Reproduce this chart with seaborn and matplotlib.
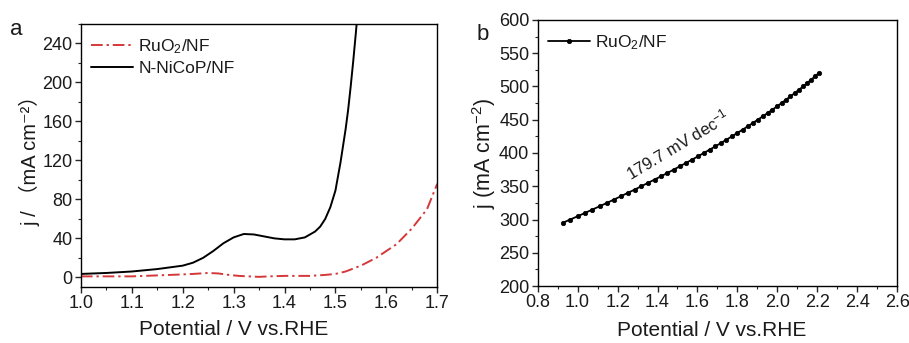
import matplotlib
matplotlib.use("Agg")
import matplotlib.pyplot as plt
from matplotlib.ticker import MultipleLocator
import pandas as pd
import seaborn as sns

# Panel a: polarization curves
nicop_v = [1.00, 1.05, 1.10, 1.15, 1.20, 1.22, 1.24, 1.26, 1.28, 1.30, 1.32, 1.34,
           1.36, 1.38, 1.40, 1.42, 1.44, 1.46, 1.47, 1.48, 1.49, 1.50, 1.51, 1.52,
           1.525, 1.53, 1.535, 1.54, 1.542]
nicop_j = [3.5, 4.5, 6, 8.5, 12, 15, 20, 27, 35, 41, 44.5, 44, 42, 40, 39, 39, 41,
           47, 52, 60, 72, 89, 118, 152, 172, 196, 222, 250, 262]

ruo2_v = [1.00, 1.05, 1.10, 1.15, 1.20, 1.22, 1.25, 1.27, 1.29, 1.31, 1.33, 1.35,
          1.37, 1.40, 1.45, 1.48, 1.50, 1.52, 1.55, 1.58, 1.60, 1.62, 1.65, 1.68, 1.70]
ruo2_j = [1, 1, 1, 2, 3, 3.5, 4.5, 4, 2.5, 1.5, 1, 0.5, 1, 1.5, 1.5, 2.5, 3.5, 6,
          12, 20, 27, 34, 50, 70, 96]

# Panel b: RuO2/NF sampled points
tafel_v = [0.925, 0.963, 1.001, 1.038, 1.074, 1.111, 1.147, 1.182, 1.217, 1.251,
           1.286, 1.319, 1.352, 1.385, 1.418, 1.450, 1.481, 1.512, 1.543, 1.573,
           1.603, 1.632, 1.661, 1.690, 1.718, 1.745, 1.773, 1.799, 1.826, 1.852,
           1.877, 1.902, 1.927, 1.951, 1.975, 1.998, 2.021, 2.043, 2.065, 2.087,
           2.108, 2.129, 2.149, 2.169, 2.188, 2.207]
tafel_j = [295, 300, 305, 310, 315, 320, 325, 330, 335, 340, 345, 350, 355, 360,
           365, 370, 375, 380, 385, 390, 395, 400, 405, 410, 415, 420, 425, 430,
           435, 440, 445, 450, 455, 460, 465, 470, 475, 480, 485, 490, 495, 500,
           505, 510, 515, 520]

sns.set_style("ticks")
FAMILY = ["Liberation Sans", "Noto Sans CJK SC", "DejaVu Sans"]
plt.rcParams["font.family"] = FAMILY
plt.rcParams["mathtext.fontset"] = "custom"
plt.rcParams["mathtext.rm"] = "Liberation Sans"
plt.rcParams["mathtext.it"] = "Liberation Sans"
plt.rcParams["mathtext.default"] = "regular"

TXT = "#1a1a1a"
RED = "#d6383a"

fig = plt.figure(figsize=(9.09, 3.43), dpi=100)
ax1 = fig.add_axes([0.089, 0.163, 0.392, 0.767])
ax2 = fig.add_axes([0.5915, 0.166, 0.3955, 0.776])

df_ru = pd.DataFrame({"V": ruo2_v, "j": ruo2_j})
df_ni = pd.DataFrame({"V": nicop_v, "j": nicop_j})
sns.lineplot(data=df_ru, x="V", y="j", ax=ax1, color=RED, lw=1.4,
             linestyle=(0, (6, 2, 1.2, 2)), sort=False, label="RuO$_2$/NF")
sns.lineplot(data=df_ni, x="V", y="j", ax=ax1, color="black", lw=1.4,
             sort=False, label="N-NiCoP/NF")
ax1.set_xlim(1.0, 1.7)
ax1.set_ylim(-10, 260)
ax1.xaxis.set_major_locator(MultipleLocator(0.1))
ax1.xaxis.set_minor_locator(MultipleLocator(0.05))
ax1.yaxis.set_major_locator(MultipleLocator(40))
ax1.yaxis.set_minor_locator(MultipleLocator(20))
ax1.set_xlabel("Potential / V vs.RHE", fontsize=15, color=TXT)
ax1.xaxis.set_label_coords(0.43, -0.125, transform=ax1.transAxes)
ax1.xaxis.label.set_va("top")
ax1.set_ylabel("j / （mA cm⁻²）", fontsize=14.5, color=TXT, labelpad=1,
               family=FAMILY)
leg1 = ax1.legend(loc="upper left", frameon=False, fontsize=12.5, handlelength=2.4,
                  handletextpad=0.3, borderaxespad=0.2, labelspacing=0.3,
                  bbox_to_anchor=(0.0, 0.99))
for t in leg1.get_texts():
    t.set_color(TXT)

df_b = pd.DataFrame({"V": tafel_v, "j": tafel_j})
sns.lineplot(data=df_b, x="V", y="j", ax=ax2, color="black", lw=1.3,
             marker="o", markersize=3.2, markeredgewidth=0.5, markeredgecolor="black",
             sort=False, label="RuO$_2$/NF")
ax2.set_xlim(0.8, 2.6)
ax2.set_ylim(200, 600)
ax2.xaxis.set_major_locator(MultipleLocator(0.2))
ax2.xaxis.set_minor_locator(MultipleLocator(0.1))
ax2.yaxis.set_major_locator(MultipleLocator(50))
ax2.yaxis.set_minor_locator(MultipleLocator(25))
ax2.set_xlabel("Potential / V vs.RHE", fontsize=15, color=TXT)
ax2.xaxis.set_label_coords(0.485, -0.13, transform=ax2.transAxes)
ax2.xaxis.label.set_va("top")
ax2.set_ylabel("j (mA cm$^{-2}$)", fontsize=15.5, color=TXT, labelpad=1)
ax2.text(1.5, 413, "179.7 mV dec$^{-1}$", rotation=31, fontsize=12, color=TXT,
         ha="center", va="center", rotation_mode="anchor")
leg2 = ax2.legend(loc="upper left", frameon=False, fontsize=12.5, handlelength=2.4,
                  handletextpad=0.3, borderaxespad=0.2, bbox_to_anchor=(0.0, 0.99))
for t in leg2.get_texts():
    t.set_color(TXT)

for ax in (ax1, ax2):
    for s in ax.spines.values():
        s.set_visible(True)
        s.set_linewidth(1.0)
        s.set_color("black")
    ax.tick_params(which="major", direction="out", length=4, width=1.0,
                   labelsize=13, labelcolor=TXT, pad=2)
    ax.tick_params(which="minor", direction="out", length=2, width=0.8)

fig.text(0.011, 0.898, "a", fontsize=16, color=TXT)
fig.text(0.524, 0.883, "b", fontsize=16, color=TXT)

fig.savefig("out.png", dpi=100)
